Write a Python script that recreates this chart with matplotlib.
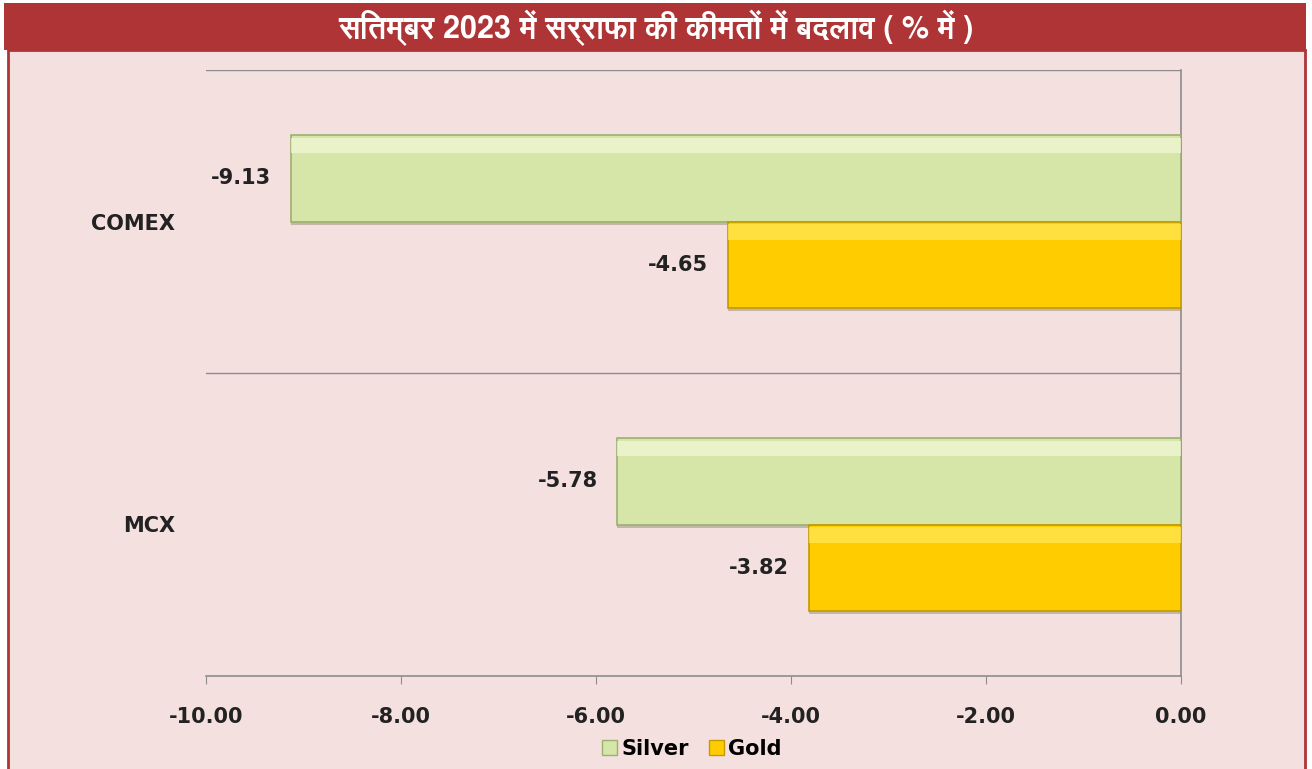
import matplotlib.pyplot as plt
from matplotlib import font_manager
from matplotlib.ft2font import FT2Font
from matplotlib.patches import Rectangle, Patch
import numpy as np

# data
markets = ["COMEX", "MCX"]
silver = [-9.13, -5.78]
gold = [-4.65, -3.82]
xticks = [-10, -8, -6, -4, -2, 0]
title = "सितम्बर 2023 में सर्राफा की कीमतों में बदलाव ( % में )"

# find a font that covers Devanagari, bold face if there is one
deva_family = None
deva_bold = False
for f in font_manager.fontManager.ttflist:
    try:
        if ord("स") in FT2Font(f.fname).get_charmap():
            is_bold = f.weight in ("bold", 700, 600, 800) or (isinstance(f.weight, int) and f.weight >= 600)
            if deva_family is None or (is_bold and not deva_bold):
                deva_family = f.name
                deva_bold = is_bold
    except Exception:
        pass
title_fonts = [deva_family, "DejaVu Sans"] if deva_family else ["DejaVu Sans"]

lab_font = "DejaVu Sans"
bg = "#F5E0E0"
red = "#AE3436"
silver_c, silver_edge, silver_hi = "#D6E5A8", "#9DB070", "#F2F8D8"
gold_c, gold_edge, gold_hi = "#FFCC00", "#C29A00", "#FFE95A"

fig = plt.figure(figsize=(13.12, 7.69), dpi=100)
fig.patch.set_facecolor("white")
# pink panel with red side borders and title bar
fig.patches.append(Rectangle((8 / 1312, -0.01), 1297 / 1312, 1.01 - 50 / 769,
                             transform=fig.transFigure, facecolor=bg,
                             edgecolor=red, linewidth=2, zorder=0))
fig.patches.append(Rectangle((4 / 1312, 1 - 50 / 769), 1302 / 1312, 47 / 769,
                             transform=fig.transFigure, facecolor=red,
                             edgecolor="none", zorder=1))
fig.text(0.5, 1 - 28 / 769, title, color="white", fontsize=22, fontweight="bold",
         ha="center", va="center", family=title_fonts)

ax = fig.add_axes([206 / 1312, 93 / 769, 975 / 1312, 606 / 769])
ax.set_zorder(3)
ax.patch.set_alpha(0)

y = np.arange(len(markets))[::-1].astype(float)
h = 0.285
ys = y + h / 2
yg = y - h / 2

for yy, vals, c, ec, hi in [(ys, silver, silver_c, silver_edge, silver_hi),
                            (yg, gold, gold_c, gold_edge, gold_hi)]:
    ax.barh(yy - 0.012, vals, height=h, color="#6a6a4a", alpha=0.35, zorder=2)
    ax.barh(yy, vals, height=h, color=c, edgecolor=ec, linewidth=1.2, zorder=3)
    ax.barh(yy + h * 0.38, vals, height=h * 0.18, color=hi, alpha=0.7,
            edgecolor="none", zorder=4)
    for v, p in zip(vals, yy):
        ax.annotate(f"{v:.2f}", (v, p), xytext=(-14, 0), textcoords="offset points",
                    ha="right", va="center", fontsize=15, fontweight="bold",
                    family=lab_font, color="#222222")

ax.set_xlim(-10, 0)
ax.set_ylim(-0.5, 1.5)
for yl in [0.5, 1.5]:
    ax.axhline(yl, color="#8C8C8C", linewidth=1, zorder=1)

ax.set_xticks(xticks)
ax.set_xticklabels([f"{t:.2f}" for t in xticks], fontsize=15, fontweight="bold",
                   family=lab_font, color="#222222")
ax.tick_params(axis="x", direction="out", length=6, color="#8C8C8C", pad=16)
ax.set_yticks(y)
ax.set_yticklabels(markets, fontsize=15, fontweight="bold", family=lab_font,
                   color="#222222")
ax.tick_params(axis="y", length=0, pad=22)

for s in ["top", "left"]:
    ax.spines[s].set_visible(False)
for s in ["bottom", "right"]:
    ax.spines[s].set_color("#8C8C8C")
    ax.spines[s].set_linewidth(1.2)

# legend
handles = [Patch(facecolor=silver_c, edgecolor=silver_edge, label="Silver"),
           Patch(facecolor=gold_c, edgecolor=gold_edge, label="Gold")]
leg = fig.legend(handles=handles, loc="center", bbox_to_anchor=(692 / 1312, 20 / 769),
                 ncol=2, frameon=False, handlelength=0.7, handleheight=0.7,
                 handletextpad=0.2, columnspacing=1.0,
                 prop={"family": lab_font, "weight": "bold", "size": 15})
leg.set_zorder(4)

fig.savefig("out.png", dpi=100, facecolor=fig.get_facecolor())
